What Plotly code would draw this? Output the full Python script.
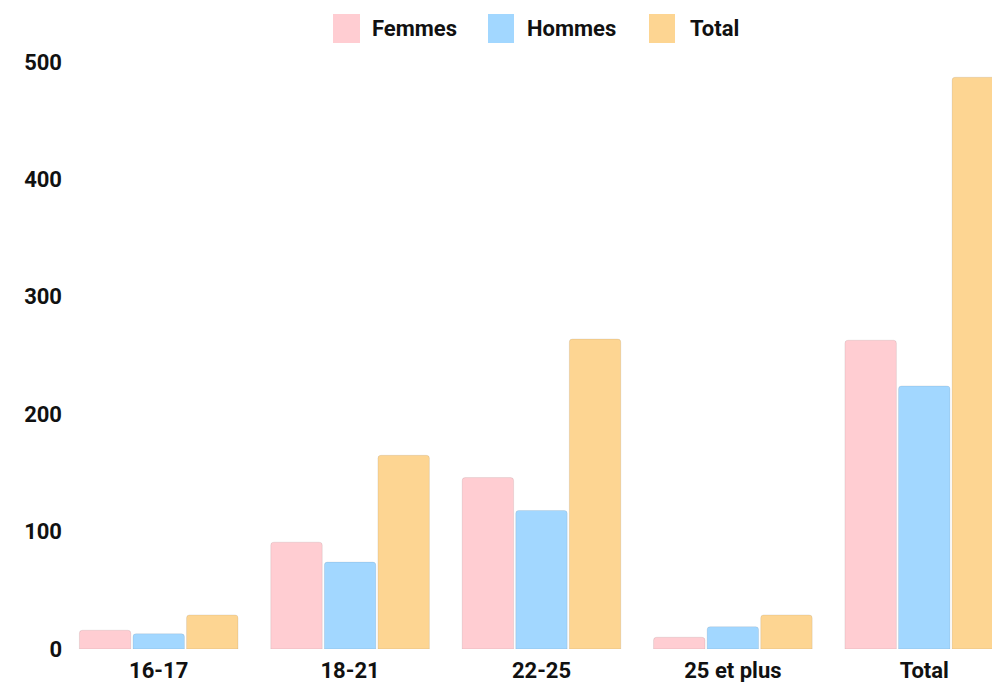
import plotly.graph_objects as go

categories = ["16-17", "18-21", "22-25", "25 et plus", "Total"]
femmes = [16, 91, 146, 10, 263]
hommes = [13, 74, 118, 19, 224]
total = [29, 165, 264, 29, 487]
series_names = ["Femmes", "Hommes", "Total"]
colors = ["#FFCDD2", "#A2D7FF", "#FDD592"]
y_ticks = [0, 100, 200, 300, 400, 500]

W, H = 992, 682
ML, MR, MT, MB = 63, 0, 50, 33
PW, PH = W - ML - MR, H - MT - MB

FONT = "Roboto"

fig = go.Figure()
for name, vals, col in zip(series_names, [femmes, hommes, total], colors):
    fig.add_trace(go.Bar(
        x=categories, y=vals, name=name,
        marker=dict(color=col, cornerradius=3,
                    line=dict(color="rgba(0,0,0,0.08)", width=1)),
        showlegend=False,
    ))

# manual legend (big swatches); positions given in screen pixels
def px2paper(x, y):
    return (x - ML) / PW, (H - MB - y) / PH

legend_items = [(333, 360, 370), (488, 514, 525), (649, 675, 688)]
shapes = []
annotations = []
for (sx0, sx1, tx), name, col in zip(legend_items, series_names, colors):
    x0, y0 = px2paper(sx0, 43)
    x1, y1 = px2paper(sx1, 14)
    shapes.append(dict(type="rect", xref="paper", yref="paper",
                       x0=x0, x1=x1, y0=y0, y1=y1,
                       fillcolor=col, line=dict(width=0), layer="above"))
    ax, ay = px2paper(tx, 29)
    annotations.append(dict(xref="paper", yref="paper", x=ax, y=ay,
                            text=name, showarrow=False, xanchor="left",
                            yanchor="middle",
                            font=dict(family=FONT, size=22, color="#111111", weight="bold")))

fig.update_layout(
    width=W, height=H,
    margin=dict(l=ML, r=MR, t=MT, b=MB, pad=0),
    plot_bgcolor="white", paper_bgcolor="white",
    barmode="group", bargap=0.16, bargroupgap=0.04,
    shapes=shapes, annotations=annotations,
    xaxis=dict(range=[-0.5, 4.354], showgrid=False, zeroline=False,
               showline=False, ticks="", ticklabelstandoff=6,
               tickfont=dict(family=FONT, size=22, color="#111111", weight="bold")),
    yaxis=dict(range=[0, 510.2], tickvals=y_ticks, showgrid=False,
               zeroline=False, showline=False, ticks="",
               tickfont=dict(family=FONT, size=22, color="#111111", weight="bold")),
)

fig.write_html(
    "out.html",
    config={"displayModeBar": False},
    post_script="document.body.style.margin='0';"
                "document.documentElement.style.overflow='hidden';"
                "document.body.style.overflow='hidden';",
)
